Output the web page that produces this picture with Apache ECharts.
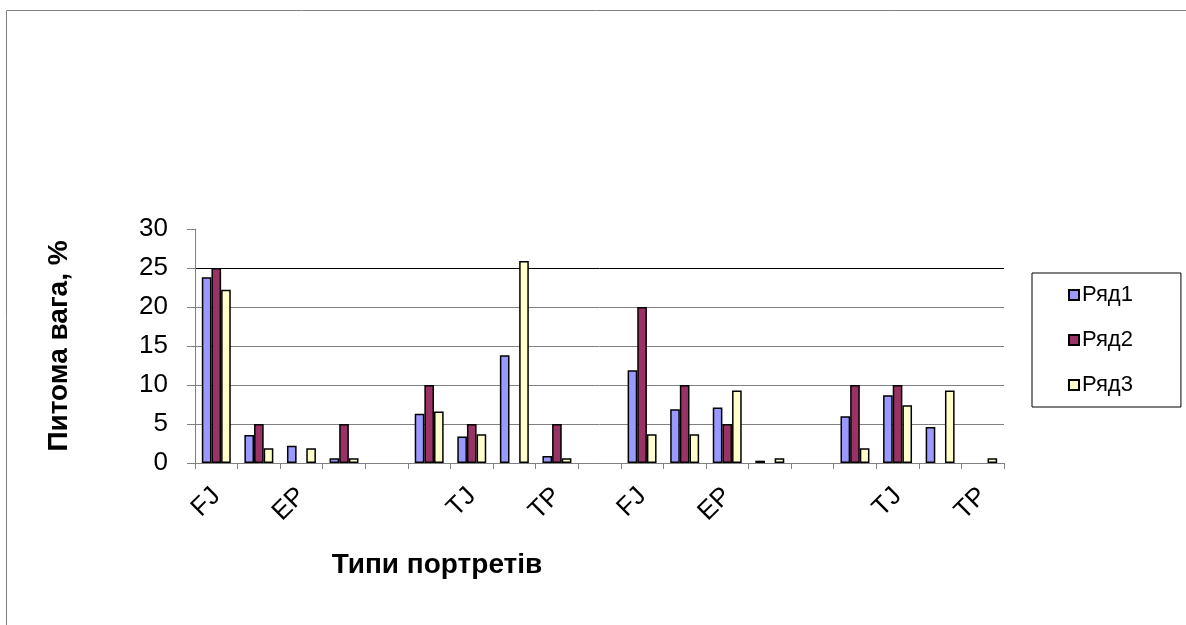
<!DOCTYPE html>
<html>
<head>
<meta charset="utf-8">
<script src="https://cdn.jsdelivr.net/npm/echarts@6/dist/echarts.min.js"></script>
<style>
html,body{margin:0;padding:0;background:#fff;}
#chart{width:1186px;height:625px;}
</style>
</head>
<body>
<div id="chart"></div>
<script>
// Category tick labels (only every other one is printed in the original)
const tickLabels = ['FJ','','EP','','','','TJ','','TP','','FJ','','EP','','','','TJ','','TP'];
const seriesNames = ['Ряд1','Ряд2','Ряд3'];
// null = no bar drawn in the original
const row1 = [23.8, 3.6, 2.2, 0.6, null, 6.3, 3.4, 13.8, 0.9, null, 11.9, 6.9, 7.1, 0.3, null, 6.0, 8.7, 4.6, null];
const row2 = [25, 5, null, 5, null, 10, 5, null, 5, null, 20, 10, 5, null, null, 10, 10, null, null];
const row3 = [22.2, 1.9, 1.9, 0.6, null, 6.6, 3.7, 25.9, 0.6, null, 3.7, 3.7, 9.3, 0.6, null, 1.9, 7.4, 9.3, 0.6];
const yTicks = {min: 0, max: 30, interval: 5};
const yTitle = 'Питома вага, %';
const xTitle = 'Типи портретів';

const colors = ['#9999FF', '#993366', '#FFFFCC'];
const FONT = '"Liberation Sans", Arial, sans-serif';

const chart = echarts.init(document.getElementById('chart'));
const seriesData = [row1, row2, row3];
chart.setOption({
  animation: false,
  backgroundColor: '#fff',
  textStyle: {fontFamily: FONT},
  graphic: [{
    type: 'rect', silent: true,
    shape: {x: 6.5, y: 10.5, width: 1300, height: 700},
    style: {fill: 'none', stroke: '#808080', lineWidth: 1}
  }],
  grid: {left: 195, right: 182, top: 229, bottom: 162, containLabel: false},
  legend: {
    orient: 'vertical',
    left: 1032, top: 273,
    padding: [11, 48, 11, 36],
    itemGap: 23,
    itemWidth: 10, itemHeight: 10,
    icon: 'rect',
    borderColor: '#000', borderWidth: 1,
    backgroundColor: '#fff',
    textStyle: {fontSize: 22, color: '#000', fontFamily: FONT, padding: [0, 0, 0, -2]},
    data: seriesNames
  },
  xAxis: {
    type: 'category',
    data: tickLabels,
    boundaryGap: true,
    name: xTitle,
    nameLocation: 'middle',
    nameGap: 88,
    nameTextStyle: {fontSize: 28, fontWeight: 'bold', color: '#000', fontFamily: FONT, padding: [0, 325, 0, 0]},
    axisLine: {lineStyle: {color: '#808080', width: 1}},
    axisTick: {show: true, interval: 0, length: 6, lineStyle: {color: '#808080'}},
    axisLabel: {interval: 0, rotate: 45, fontSize: 26, color: '#000', margin: 29, fontFamily: FONT}
  },
  yAxis: {
    type: 'value',
    min: yTicks.min, max: yTicks.max, interval: yTicks.interval,
    name: yTitle,
    nameLocation: 'middle',
    nameGap: 122,
    nameTextStyle: {fontSize: 28, fontWeight: 'bold', color: '#000', fontFamily: FONT},
    axisLine: {show: true, lineStyle: {color: '#808080', width: 1}},
    axisTick: {show: true, length: 8, lineStyle: {color: '#808080'}},
    axisLabel: {fontSize: 26, color: '#000', margin: 27, fontFamily: FONT},
    splitLine: {show: true, lineStyle: {color: ['#808080','#808080','#808080','#808080','#808080','#000000','rgba(0,0,0,0)'], width: 1}}
  },
  series: seriesNames.map((n, i) => ({
    name: n,
    type: 'bar',
    data: seriesData[i],
    barGap: '0%',
    barCategoryGap: '32%',
    itemStyle: {color: colors[i], borderColor: '#000', borderWidth: 1.5}
  }))
});
</script>
</body>
</html>
